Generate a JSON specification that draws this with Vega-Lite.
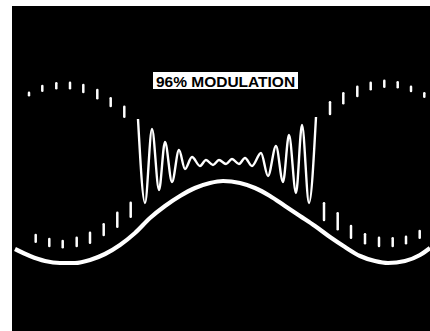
{
  "$schema": "https://vega.github.io/schema/vega-lite/v6.json",
  "width": 418,
  "height": 325,
  "autosize": {"type": "none"},
  "padding": {"left": 12, "top": 6, "right": 0, "bottom": 0},
  "background": "white",
  "config": {"view": {"fill": "black", "stroke": null}},
  "datasets": {
    "trace": [
      {"t": 15, "v": 249}, {"t": 30, "v": 256}, {"t": 45, "v": 261}, {"t": 60, "v": 263},
      {"t": 75, "v": 263}, {"t": 90, "v": 260}, {"t": 105, "v": 254}, {"t": 120, "v": 245},
      {"t": 135, "v": 233}, {"t": 150, "v": 218}, {"t": 165, "v": 206}, {"t": 180, "v": 196},
      {"t": 195, "v": 188}, {"t": 210, "v": 183}, {"t": 223, "v": 181}, {"t": 240, "v": 183},
      {"t": 255, "v": 188}, {"t": 270, "v": 196}, {"t": 285, "v": 206}, {"t": 300, "v": 216},
      {"t": 315, "v": 226}, {"t": 330, "v": 237}, {"t": 345, "v": 247}, {"t": 360, "v": 256},
      {"t": 375, "v": 261}, {"t": 388, "v": 263}, {"t": 405, "v": 261}, {"t": 420, "v": 255},
      {"t": 430, "v": 248}
    ],
    "osc": [
      {"t": 138, "v": 119}, {"t": 145, "v": 203}, {"t": 152, "v": 129}, {"t": 159, "v": 190},
      {"t": 165, "v": 142}, {"t": 172, "v": 182}, {"t": 179, "v": 150}, {"t": 185, "v": 169},
      {"t": 192, "v": 157}, {"t": 200, "v": 166}, {"t": 206, "v": 160}, {"t": 213, "v": 165},
      {"t": 219, "v": 160}, {"t": 226, "v": 164}, {"t": 232, "v": 159}, {"t": 239, "v": 164},
      {"t": 245, "v": 158}, {"t": 252, "v": 166}, {"t": 261, "v": 153}, {"t": 268, "v": 176},
      {"t": 276, "v": 146}, {"t": 283, "v": 182}, {"t": 289, "v": 135}, {"t": 296, "v": 193},
      {"t": 302, "v": 125}, {"t": 309, "v": 203}, {"t": 316, "v": 117}
    ],
    "dashes": [
      {"t": 29, "lo": 92.7, "hi": 95.3}, {"t": 42.3, "lo": 86, "hi": 90.7},
      {"t": 56.3, "lo": 83.3, "hi": 88.3}, {"t": 70, "lo": 82.7, "hi": 88.3},
      {"t": 83.3, "lo": 85, "hi": 92}, {"t": 97.3, "lo": 90, "hi": 98.3},
      {"t": 110.7, "lo": 98.3, "hi": 106}, {"t": 124.3, "lo": 106.7, "hi": 116.7},
      {"t": 35.7, "lo": 235, "hi": 241.7}, {"t": 49.3, "lo": 239, "hi": 246},
      {"t": 62.7, "lo": 241, "hi": 247.3}, {"t": 76.7, "lo": 237.7, "hi": 246},
      {"t": 90, "lo": 232.7, "hi": 242.7}, {"t": 103.7, "lo": 224.3, "hi": 235},
      {"t": 117.3, "lo": 212.7, "hi": 226.7}, {"t": 130.7, "lo": 202.7, "hi": 216.7},
      {"t": 330, "lo": 102.3, "hi": 114}, {"t": 343.3, "lo": 93.3, "hi": 103.3},
      {"t": 357.3, "lo": 86.7, "hi": 96}, {"t": 370.7, "lo": 82.7, "hi": 89.3},
      {"t": 384.3, "lo": 80.7, "hi": 86.7}, {"t": 397.7, "lo": 82.3, "hi": 87.3},
      {"t": 411, "lo": 86.7, "hi": 91}, {"t": 424.3, "lo": 93.3, "hi": 96.7},
      {"t": 324, "lo": 203.3, "hi": 220}, {"t": 337.7, "lo": 213.3, "hi": 229.3},
      {"t": 351, "lo": 226, "hi": 237.7}, {"t": 365, "lo": 234.3, "hi": 243.3},
      {"t": 379, "lo": 237.7, "hi": 246}, {"t": 392.7, "lo": 238.3, "hi": 246},
      {"t": 406, "lo": 236.7, "hi": 243.3}, {"t": 419.7, "lo": 231, "hi": 237.7}
    ],
    "label": [
      {"t0": 153, "t1": 298, "v0": 72, "v1": 89, "tc": 225.5, "vc": 81.5, "text": "96% MODULATION"}
    ]
  },
  "layer": [
    {
      "data": {"name": "dashes"},
      "mark": {"type": "rule", "color": "white", "strokeWidth": 2.5, "strokeCap": "round"},
      "encoding": {
        "x": {"field": "t", "type": "quantitative", "scale": {"domain": [12, 430]}, "axis": null},
        "y": {"field": "lo", "type": "quantitative", "scale": {"domain": [6, 331], "reverse": true}, "axis": null},
        "y2": {"field": "hi"}
      }
    },
    {
      "data": {"name": "osc"},
      "mark": {"type": "line", "color": "white", "strokeWidth": 2.4, "interpolate": "monotone"},
      "encoding": {
        "x": {"field": "t", "type": "quantitative", "scale": {"domain": [12, 430]}, "axis": null},
        "y": {"field": "v", "type": "quantitative", "scale": {"domain": [6, 331], "reverse": true}, "axis": null}
      }
    },
    {
      "data": {"name": "trace"},
      "mark": {"type": "line", "color": "white", "strokeWidth": 4.2, "interpolate": "monotone"},
      "encoding": {
        "x": {"field": "t", "type": "quantitative", "scale": {"domain": [12, 430]}, "axis": null},
        "y": {"field": "v", "type": "quantitative", "scale": {"domain": [6, 331], "reverse": true}, "axis": null}
      }
    },
    {
      "data": {"name": "label"},
      "mark": {"type": "rect", "color": "white"},
      "encoding": {
        "x": {"field": "t0", "type": "quantitative", "scale": {"domain": [12, 430]}, "axis": null},
        "x2": {"field": "t1"},
        "y": {"field": "v0", "type": "quantitative", "scale": {"domain": [6, 331], "reverse": true}, "axis": null},
        "y2": {"field": "v1"}
      }
    },
    {
      "data": {"name": "label"},
      "mark": {"type": "text", "color": "black", "font": "Liberation Sans", "fontWeight": "bold", "fontSize": 15.5, "align": "center", "baseline": "middle"},
      "encoding": {
        "x": {"field": "tc", "type": "quantitative", "scale": {"domain": [12, 430]}, "axis": null},
        "y": {"field": "vc", "type": "quantitative", "scale": {"domain": [6, 331], "reverse": true}, "axis": null},
        "text": {"field": "text"}
      }
    }
  ]
}
